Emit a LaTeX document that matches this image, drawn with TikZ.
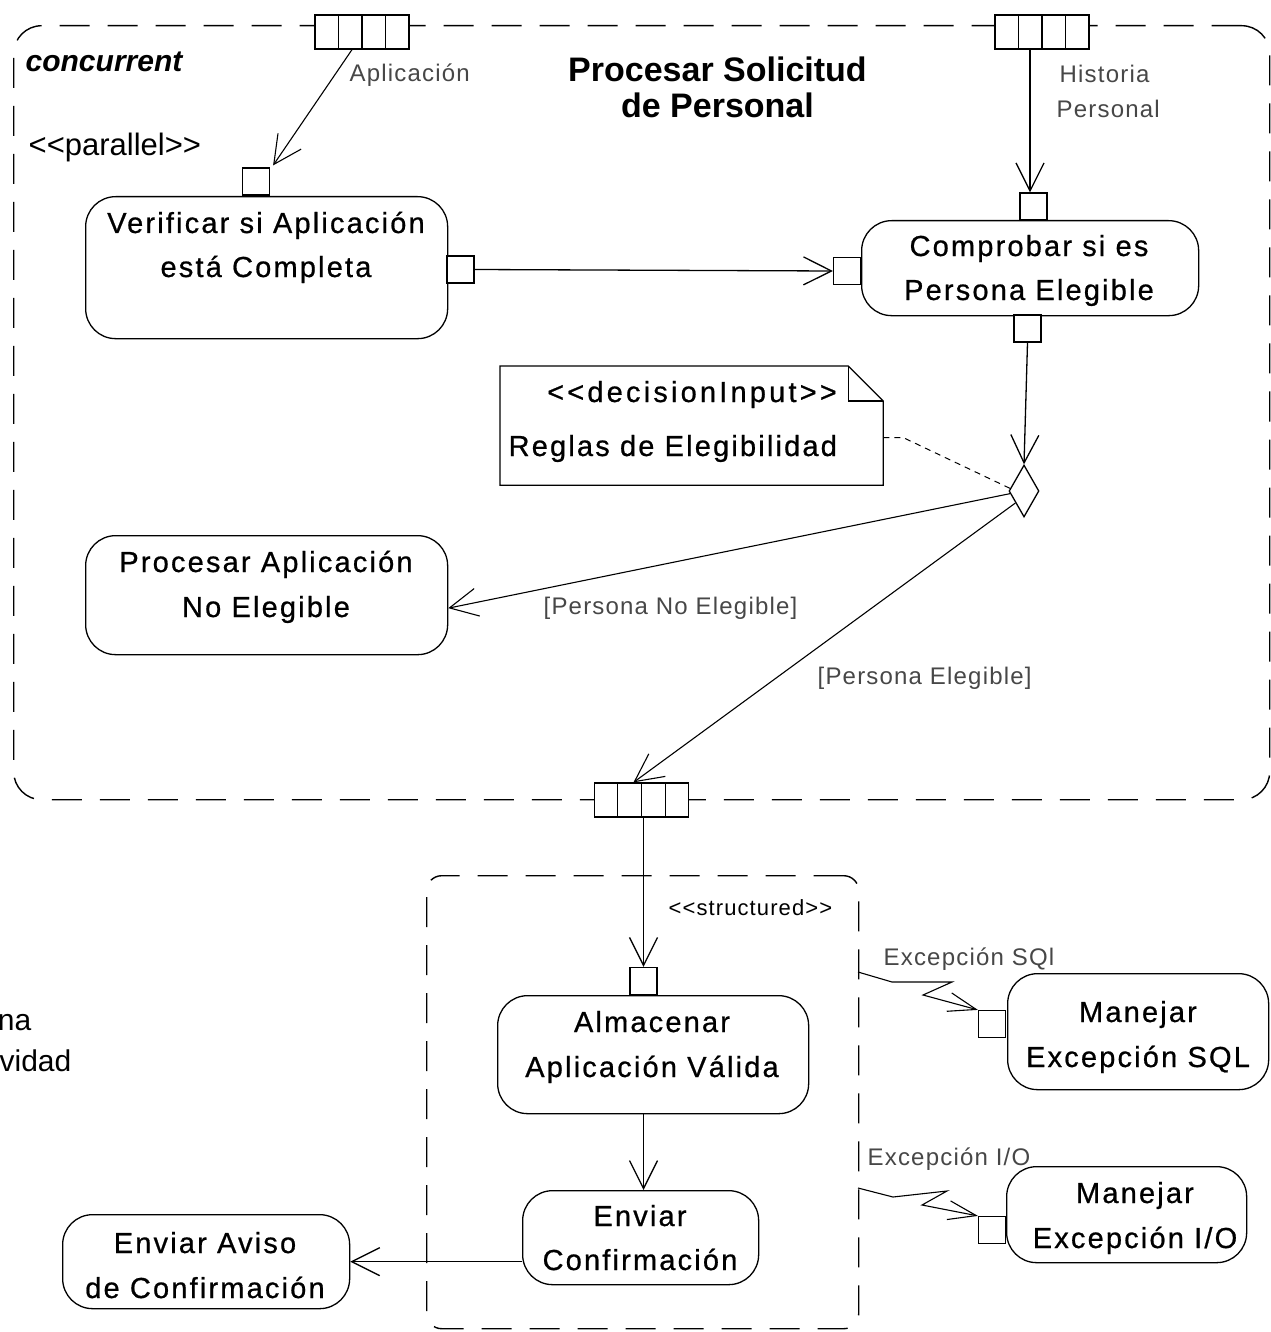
\documentclass[tikz,border=0pt]{standalone}
\usepackage{fontspec}
\setmainfont{Liberation Sans}
\newfontfamily\actff[LetterSpace=7.5,FakeBold=0.7]{Liberation Sans}
\newfontfamily\grayff[LetterSpace=5]{Liberation Sans}
\newfontfamily\wideff[LetterSpace=11,FakeBold=0.7]{Liberation Sans}
\usetikzlibrary{arrows.meta,shapes.geometric,calc}
\begin{document}
\begin{tikzpicture}[x=1pt,y=-1pt, line width=1.3pt,
  action/.style={draw, rounded corners=30pt, inner sep=0pt, anchor=north west},
  spin/.style={draw, fill=white, minimum size=27pt, inner sep=0pt, line width=1.2pt},
  bpin/.style={draw, fill=white, minimum width=94pt, minimum height=34pt, inner sep=0pt, line width=1.3pt},
  atxt/.style={font=\actff\fontsize{29pt}{31pt}\selectfont, anchor=base, inner sep=0pt},
  gtxt/.style={font=\grayff\fontsize{24pt}{26pt}\selectfont, text=black!72, anchor=base west, inner sep=0pt},
  frame/.style={draw, dash pattern=on 30pt off 18pt, line width=1.4pt, inner sep=0pt, anchor=north west},
  arr/.style={-{Straight Barb[length=28pt,width=28pt]}},
  zarr/.style={line width=1.1pt, -{Straight Barb[length=28pt,width=19pt]}}
]
\useasboundingbox (0,0) rectangle (1270,1332);
\fill[white] (0,0) rectangle (1270,1332);

% frames
\node[frame, rounded corners=28pt, minimum width=1256pt, minimum height=774pt] (conc) at (13,25) {};
\node[frame, rounded corners=15pt, minimum width=432pt, minimum height=453pt] (struct) at (426,875) {};

% actions
\node[action, minimum width=362pt, minimum height=142pt] (verif) at (85,196) {};
\node[action, minimum width=337pt, minimum height=95pt] (comp) at (861,220) {};
\node[action, minimum width=362pt, minimum height=119pt] (proc) at (85,535) {};
\node[action, minimum width=311pt, minimum height=118pt] (alm) at (497,995) {};
\node[action, minimum width=236pt, minimum height=94pt] (env) at (522,1190) {};
\node[action, minimum width=287pt, minimum height=94pt] (aviso) at (62,1214) {};
\node[action, minimum width=261pt, minimum height=116pt] (msql) at (1007,973) {};
\node[action, minimum width=240pt, minimum height=96pt] (mio) at (1006,1166) {};

% note
\node[minimum width=382pt, minimum height=118pt, inner sep=0pt, anchor=north west] (note) at (500,366) {};
\draw (note.north west) -- ([xshift=-35pt]note.north east) -- ([yshift=-35pt]note.north east) -- (note.south east) -- (note.south west) -- cycle;
\draw ([xshift=-35pt]note.north east) |- ([yshift=-35pt]note.north east);

% decision
\node[diamond, draw, fill=white, minimum width=30pt, minimum height=52pt, inner sep=0pt] (dia) at (1024,491) {};

% pins
\node[spin] (vTp) at (256,181.5) {};
\node[spin] (vRp) at (460.5,269.5) {};
\node[spin] (cLp) at (847,271) {};
\node[spin] (cTp) at (1033.5,206.5) {};
\node[spin] (cBp) at (1027.5,328.5) {};
\node[spin] (aTp) at (643.5,981) {};
\node[spin] (sqlP) at (992,1024) {};
\node[spin] (ioP) at (992,1230) {};
\node[bpin] (pA) at (362,32) {};
\node[bpin] (pH) at (1042,32) {};
\node[bpin] (pB) at (641.5,800) {};
\foreach \p in {pA,pH,pB}{
  \foreach \f in {0.25,0.5,0.75}{
    \draw ($(\p.north west)!\f!(\p.north east)$) -- ($(\p.south west)!\f!(\p.south east)$);
  }
}

% connectors
\draw[arr, line width=1.1pt] ([xshift=-10pt]pA.south) -- ([xshift=3pt,yshift=2pt]vTp.north east);
\draw[arr] ([xshift=-12pt]pH.south) -- ([xshift=-3.5pt]cTp.north);
\draw[arr] (vRp.east) -- (cLp.west);
\draw[arr] (cBp.south) -- (dia.north);
\draw[dash pattern=on 6pt off 5pt, line width=1pt] ([yshift=-12pt]note.east) -- ++(20,0) -- ($(dia.west)!0.1!(dia.north)$);
\draw[arr, line width=1.1pt] ($(dia.west)!0.1!(dia.south)$) -- ([yshift=-13pt]proc.east);
\draw[arr, line width=1.1pt] ($(dia.west)!0.45!(dia.south)$) -- ([xshift=-8pt]pB.north);
\draw[arr] ([xshift=2pt]pB.south) -- (aTp.north);
\draw[arr] (alm.south -| aTp.center) -- (env.north -| aTp.center);
\draw[arr] (env.west |- aviso.east) -- (aviso.east);
\coordinate (e1) at (858,972);
\coordinate (e2) at (858,1188);
\draw[zarr] (e1) -- (892,982) -- (952,982) -- (923,995) -- (sqlP.north west);
\draw[zarr] (e2) -- (893,1197) -- (947,1191) -- (922,1205) -- (ioP.north west);

% texts in actions
\node[atxt] (t1a) at (266,233) {Verificar si Aplicación};
\node[atxt] (t1b) at (266,277) {está Completa};
\node[atxt] (t2a) at (1029,256) {Comprobar si es};
\node[atxt] (t2b) at (1029,300) {Persona Elegible};
\node[atxt] (t3a) at (266,572) {Procesar Aplicación};
\node[atxt] (t3b) at (266,617) {No Elegible};
\node[atxt] (t4a) at (652,1032) {Almacenar};
\node[atxt] (t4b) at (652,1077) {Aplicación Válida};
\node[atxt] (t5a) at (640,1226) {Enviar};
\node[atxt] (t5b) at (640,1270) {Confirmación};
\node[atxt] (t6a) at (205,1253) {Enviar Aviso};
\node[atxt] (t6b) at (205,1298) {de Confirmación};
\node[atxt] (t7a) at (1138,1022) {Manejar};
\node[atxt] (t7b) at (1138,1067) {Excepción SQL};
\node[atxt] (t8a) at (1135,1203) {Manejar};
\node[atxt] (t8b) at (1135,1248) {Excepción I/O};
\node[atxt, font=\wideff\fontsize{29pt}{31pt}\selectfont] (t9a) at (692,402) {<{}<decisionInput>{}>};
\node[atxt, anchor=base west] (t9b) at (508,456) {Reglas de Elegibilidad};

% other labels
\node[anchor=base, inner sep=0pt, font=\fontsize{34pt}{36pt}\bfseries\selectfont] (ti1) at (717.5,82) {Procesar Solicitud};
\node[anchor=base, inner sep=0pt, font=\fontsize{34pt}{36pt}\bfseries\selectfont] (ti2) at (717.5,118) {de Personal};
\node[anchor=base west, inner sep=0pt, font=\fontsize{30pt}{32pt}\bfseries\itshape\selectfont] (conclbl) at (25,72) {concurrent};
\node[anchor=base west, inner sep=0pt, font=\fontsize{31pt}{33pt}\selectfont] (parlbl) at (28,156) {<{}<parallel>{}>};
\node[anchor=base west, inner sep=0pt, font=\grayff\fontsize{22pt}{24pt}\selectfont] (strlbl) at (668,915) {<{}<structured>{}>};
\node[gtxt] (g1) at (349,82) {Aplicación};
\node[gtxt] (g2) at (1059,83) {Historia};
\node[gtxt] (g3) at (1056,118) {Personal};
\node[gtxt] (g4) at (543,614) {[Persona No Elegible]};
\node[gtxt] (g5) at (817,684) {[Persona Elegible]};
\node[gtxt] (g6) at (883,965) {Excepción SQl};
\node[gtxt] (g7) at (867,1165) {Excepción I/O};
\node[anchor=base east, inner sep=0pt, font=\fontsize{30pt}{32pt}\selectfont] (f1) at (32,1030) {na};
\node[anchor=base east, inner sep=0pt, font=\fontsize{30pt}{32pt}\selectfont] (f2) at (72,1071) {vidad};
\end{tikzpicture}
\end{document}
